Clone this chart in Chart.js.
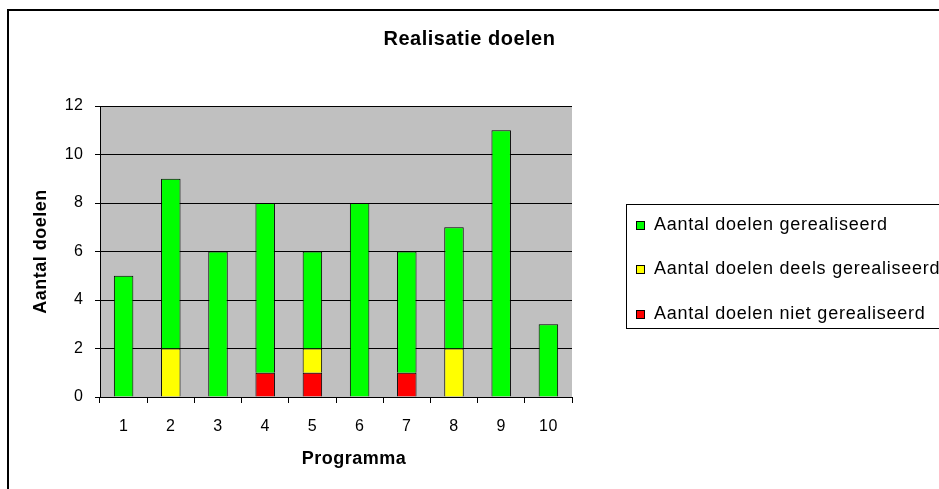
<!DOCTYPE html>
<html>
<head>
<meta charset="utf-8">
<script src="https://cdn.jsdelivr.net/npm/chart.js@4.4.1/dist/chart.umd.min.js"></script>
<style>
  html, body { margin: 0; padding: 0; background: #fff; }
  #wrap { width: 939px; height: 489px; position: relative; }
</style>
</head>
<body>
<div id="wrap"><canvas id="c" width="939" height="489"></canvas></div>
<script>
// ---- data ----
const categories = ['1', '2', '3', '4', '5', '6', '7', '8', '9', '10'];
const seriesNames = ['Aantal doelen gerealiseerd', 'Aantal doelen deels gerealiseerd', 'Aantal doelen niet gerealiseerd'];
const gerealiseerd = [5, 7, 6, 7, 4, 8, 5, 5, 11, 3];
const deelsGerealiseerd = [0, 2, 0, 0, 1, 0, 0, 2, 0, 0];
const nietGerealiseerd = [0, 0, 0, 1, 1, 0, 1, 0, 0, 0];
const seriesColors = ['#00ff00', '#ffff00', '#ff0000'];
const titleText = 'Realisatie doelen';
const xTitle = 'Programma';
const yTitle = 'Aantal doelen';

const FONT = "'Liberation Sans', Arial, Helvetica, sans-serif";
const LS = '0.5px';
Chart.defaults.font.family = FONT;
Chart.defaults.color = '#000';

// stacked bottom-to-top: niet, deels, gerealiseerd
const stackOrder = [
  { name: seriesNames[2], data: nietGerealiseerd, color: seriesColors[2] },
  { name: seriesNames[1], data: deelsGerealiseerd, color: seriesColors[1] },
  { name: seriesNames[0], data: gerealiseerd, color: seriesColors[0] }
];

const datasets = stackOrder.map(s => ({
  label: s.name,
  data: s.data,
  backgroundColor: s.color,
  borderColor: '#000',
  borderWidth: 1,
  yAxisID: 'y',
  barPercentage: 0.413,
  categoryPercentage: 1.0
}));

const frameAndBg = {
  id: 'frameAndBg',
  beforeLayout(chart) { chart.ctx.letterSpacing = LS; },
  beforeDraw(chart) {
    const ctx = chart.ctx;
    const a = chart.chartArea;
    ctx.save();
    ctx.fillStyle = '#fff';
    ctx.fillRect(0, 0, chart.width, chart.height);
    ctx.fillStyle = '#c0c0c0';
    ctx.fillRect(a.left, a.top, a.right - a.left, a.bottom - a.top);
    ctx.fillStyle = '#000';
    ctx.fillRect(7, 9, 2, chart.height - 9);
    ctx.fillRect(7, 9, chart.width - 7, 2);
    ctx.restore();
    ctx.letterSpacing = LS;
  },
  afterDraw(chart) {
    const ctx = chart.ctx;
    ctx.save();
    // legend box
    ctx.strokeStyle = '#000';
    ctx.lineWidth = 1;
    ctx.strokeRect(626.5, 204.5, 400, 124);
    ctx.font = '18px ' + FONT;
    ctx.letterSpacing = '0.75px';
    ctx.textBaseline = 'middle';
    ctx.textAlign = 'left';
    const items = chart.data.datasets.slice().reverse();
    items.forEach((ds, i) => {
      const cy = 225 + i * 44.5;
      ctx.fillStyle = ds.backgroundColor;
      ctx.fillRect(636, Math.round(cy - 4.5), 9, 9);
      ctx.strokeRect(636.5, Math.round(cy - 4.5) + 0.5, 8, 8);
      ctx.fillStyle = '#000';
      ctx.fillText(ds.label, 654, cy);
    });
    ctx.restore();
  }
};

new Chart(document.getElementById('c'), {
  type: 'bar',
  data: { labels: categories, datasets },
  plugins: [frameAndBg],
  options: {
    responsive: false,
    animation: false,
    layout: { padding: 0 },
    plugins: {
      legend: { display: false },
      tooltip: { enabled: false },
      title: {
        display: true,
        text: titleText,
        color: '#000',
        font: { size: 20, weight: 'bold', lineHeight: 1.2 },
        padding: { top: 27.7, bottom: 54.3 }
      }
    },
    scales: {
      x: {
        stacked: true,
        grid: { display: true, drawOnChartArea: false, offset: true, color: '#000', tickLength: 6, lineWidth: 1 },
        border: { display: true, color: '#000', width: 1 },
        ticks: { color: '#000', font: { size: 16 }, padding: 14, maxRotation: 0 },
        title: { display: true, text: xTitle, color: '#000', font: { size: 18, weight: 'bold', lineHeight: 1.2 }, padding: { top: 0, bottom: 18.7 } },
        afterFit(s) {
          s.height = 92;
          if (!s._shiftedTitle) {
            s._shiftedTitle = true;
            const orig = s.drawTitle;
            s.drawTitle = function () {
              const ctx = this.ctx;
              ctx.save();
              ctx.translate(18, 0);
              orig.apply(this, arguments);
              ctx.restore();
            };
          }
        }
      },
      y: {
        stacked: true,
        min: 0,
        max: 12,
        ticks: { stepSize: 2, color: '#000', font: { size: 16 }, padding: 11.5 },
        grid: { color: '#000', lineWidth: 1, tickLength: 5, drawTicks: true },
        border: { display: true, color: '#000', width: 1 },
        title: { display: true, text: yTitle, color: '#000', font: { size: 18, weight: 'bold', lineHeight: 1.2 }, padding: { top: 30.7, bottom: 0 } },
        afterFit(s) { s.width = 100; }
      },
      spacer: {
        type: 'linear',
        position: 'right',
        display: true,
        grid: { display: false },
        border: { display: false },
        ticks: { display: false },
        afterFit(s) { s.width = 367; }
      }
    }
  }
});
</script>
</body>
</html>
